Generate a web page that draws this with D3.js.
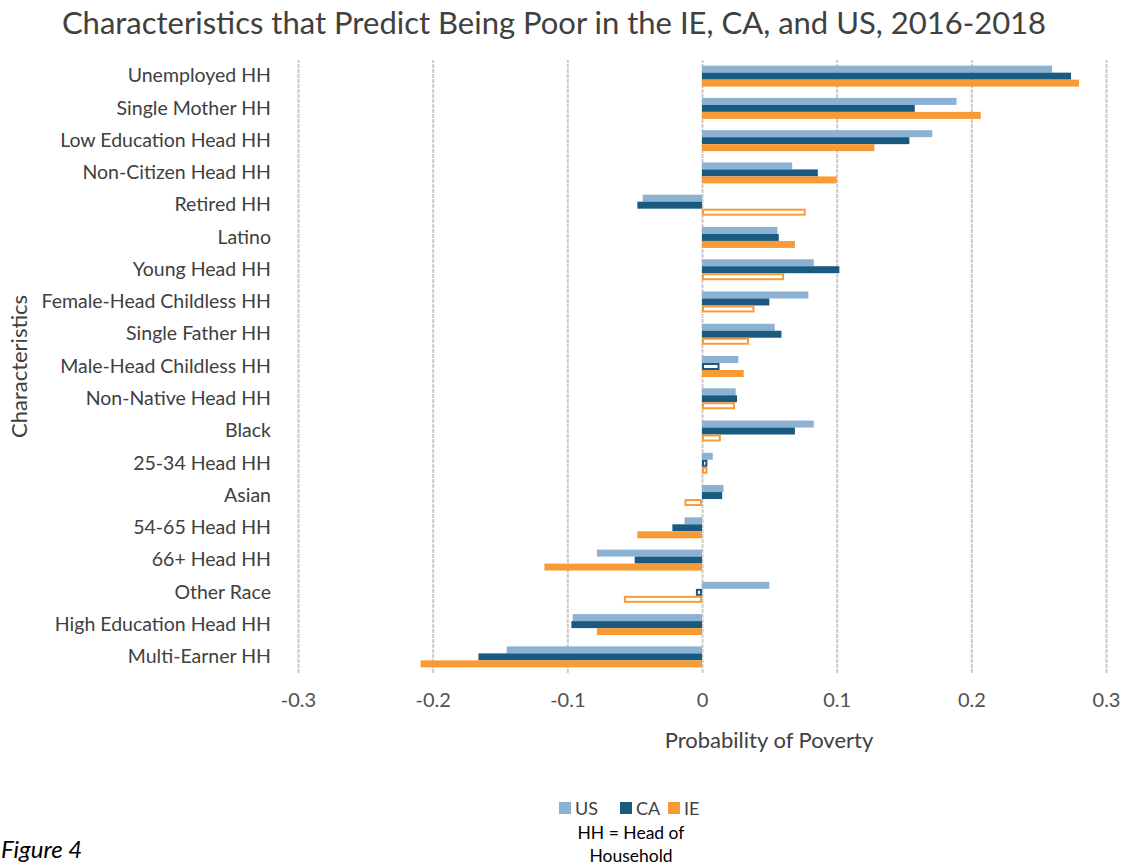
<!DOCTYPE html>
<html>
<head>
<meta charset="utf-8">
<script src="https://cdn.jsdelivr.net/npm/d3@7"></script>
<style>
  body { margin: 0; background: #fff; }
  text { font-family: Lato, "Open Sans", sans-serif; }
</style>
</head>
<body>
<svg id="chart" width="1124" height="865"></svg>
<script>
// data
var categories = ["Unemployed HH", "Single Mother HH", "Low Education Head HH", "Non-Citizen Head HH",
  "Retired HH", "Latino", "Young Head HH", "Female-Head Childless HH", "Single Father HH",
  "Male-Head Childless HH", "Non-Native Head HH", "Black", "25-34 Head HH", "Asian",
  "54-65 Head HH", "66+ Head HH", "Other Race", "High Education Head HH", "Multi-Earner HH"];
var seriesNames = ["US", "CA", "IE"];
var usValues = [0.260, 0.189, 0.171, 0.067, -0.044, 0.056, 0.083, 0.079, 0.054, 0.027, 0.025, 0.083, 0.008, 0.016, -0.013, -0.078, 0.050, -0.096, -0.145];
var caValues = [0.274, 0.158, 0.154, 0.086, -0.048, 0.057, 0.102, 0.050, 0.059, 0.013, 0.026, 0.069, 0.004, 0.015, -0.022, -0.050, -0.0045, -0.097, -0.166];
var ieValues = [0.280, 0.207, 0.128, 0.100, 0.077, 0.069, 0.061, 0.039, 0.035, 0.031, 0.0245, 0.014, 0.004, -0.013, -0.048, -0.117, -0.058, -0.078, -0.209];
// hollow bars = not significant
var usSig = [1,1,1,1,1,1,1,1,1,1,1,1,1,1,1,1,1,1,1];
var caSig = [1,1,1,1,1,1,1,1,1,0,1,1,0,1,1,1,0,1,1];
var ieSig = [1,1,1,1,0,1,0,0,0,1,0,0,0,0,1,1,0,1,1];
var tickVals = [-0.3, -0.2, -0.1, 0, 0.1, 0.2, 0.3];

var colors = { US: "#8cb2d3", CA: "#1b5a80", IE: "#f89b37" };

var allVals = [usValues, caValues, ieValues];
var allSig = [usSig, caSig, ieSig];
var rows = [];
categories.forEach(function (c, i) {
  seriesNames.forEach(function (s, j) {
    rows.push({ cat: c, series: s, value: allVals[j][i], sig: allSig[j][i] });
  });
});

var svg = d3.select("#chart");
var plotLeft = 298, plotRight = 1106, plotTop = 60, plotBottom = 673;

var x = d3.scaleLinear().domain([-0.3, 0.3]).range([plotLeft, plotRight]);
var y = d3.scaleBand().domain(categories).range([plotTop, plotBottom]).paddingInner(0.35).paddingOuter(0.175);
var ySub = d3.scaleBand().domain(seriesNames).range([0, y.bandwidth()]);

// gridlines
svg.append("g")
  .attr("transform", "translate(0," + plotBottom + ")")
  .call(d3.axisBottom(x).tickValues(tickVals).tickSize(-(plotBottom - plotTop)).tickFormat(""))
  .call(function (g) { g.select(".domain").remove(); })
  .selectAll("line")
  .attr("stroke", "#cbcbcb")
  .attr("stroke-width", 2)
  .attr("stroke-dasharray", "4,1");

// bars (hollow ones drawn with an inset outline)
svg.append("g").selectAll("rect")
  .data(rows)
  .enter()
  .append("rect")
  .attr("x", function (d) { return Math.min(x(0), x(d.value)) + (d.sig ? 0 : 1); })
  .attr("y", function (d) { return y(d.cat) + ySub(d.series) + (d.sig ? 0 : 1); })
  .attr("width", function (d) { return Math.max(0, Math.abs(x(d.value) - x(0)) - (d.sig ? 0 : 2)); })
  .attr("height", function (d) { return ySub.bandwidth() - (d.sig ? 0 : 2); })
  .attr("fill", function (d) { return d.sig ? colors[d.series] : "#fff"; })
  .attr("stroke", function (d) { return colors[d.series]; })
  .attr("stroke-width", function (d) { return d.sig ? 0 : 2; });

// x tick labels
svg.append("g")
  .attr("transform", "translate(0," + (plotBottom + 17) + ")")
  .call(d3.axisBottom(x).tickValues(tickVals).tickSize(0)
    .tickFormat(function (d) { return String(+d.toFixed(1)); }))
  .call(function (g) { g.select(".domain").remove(); })
  .selectAll("text")
  .attr("font-size", 20)
  .attr("font-family", "Lato, sans-serif")
  .attr("fill", "#505050");

// category labels
svg.append("g")
  .attr("transform", "translate(" + plotLeft + ",0)")
  .call(d3.axisLeft(y).tickSize(0).tickPadding(27))
  .call(function (g) { g.select(".domain").remove(); })
  .selectAll("text")
  .attr("font-size", 19.5)
  .attr("font-family", "Lato, sans-serif")
  .attr("fill", "#404040");

// titles
svg.append("text")
  .attr("x", 554).attr("y", 34)
  .attr("text-anchor", "middle")
  .attr("font-size", 31)
  .attr("fill", "#404040")
  .text("Characteristics that Predict Being Poor in the IE, CA, and US, 2016-2018");

svg.append("text")
  .attr("x", 769).attr("y", 748)
  .attr("text-anchor", "middle")
  .attr("font-size", 22)
  .attr("fill", "#404040")
  .text("Probability of Poverty");

svg.append("text")
  .attr("transform", "translate(27," + ((plotTop + plotBottom) / 2) + ") rotate(-90)")
  .attr("text-anchor", "middle")
  .attr("font-size", 22)
  .attr("fill", "#404040")
  .text("Characteristics");

// legend
var legendX = [559, 620, 668];
var legend = svg.append("g").selectAll("g")
  .data(seriesNames)
  .enter()
  .append("g")
  .attr("transform", function (d, i) { return "translate(" + legendX[i] + ",802)"; });
legend.append("rect").attr("width", 12).attr("height", 12).attr("fill", function (d) { return colors[d]; });
legend.append("text").attr("x", 16).attr("y", 13).attr("font-size", 18).attr("fill", "#404040").text(function (d) { return d; });

svg.append("text").attr("x", 631).attr("y", 839).attr("text-anchor", "middle")
  .attr("font-size", 17.5).attr("fill", "#000").text("HH = Head of");
svg.append("text").attr("x", 631).attr("y", 862).attr("text-anchor", "middle")
  .attr("font-size", 17.5).attr("fill", "#000").text("Household");

svg.append("text").attr("x", 1).attr("y", 858)
  .attr("font-size", 24).attr("font-style", "italic").attr("fill", "#000")
  .attr("font-family", "'Liberation Sans', Arial, sans-serif")
  .text("Figure 4");
</script>
</body>
</html>
